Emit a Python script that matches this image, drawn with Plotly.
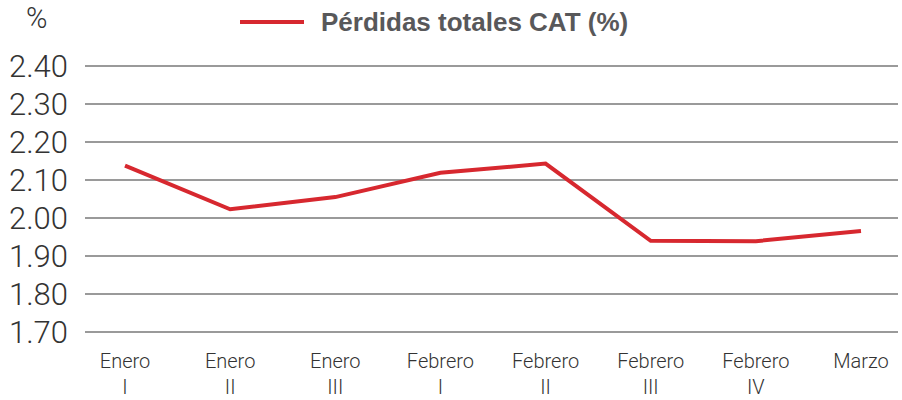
import plotly.graph_objects as go

categories = ["Enero<br>I", "Enero<br>II", "Enero<br>III", "Febrero<br>I",
              "Febrero<br>II", "Febrero<br>III", "Febrero<br>IV", "Marzo"]
perdidas = [2.138, 2.023, 2.055, 2.119, 2.143, 1.940, 1.939, 1.966]
y_ticks = [1.70, 1.80, 1.90, 2.00, 2.10, 2.20, 2.30, 2.40]
y_tick_text = ["1.70", "1.80", "1.90", "2.00", "2.10", "2.20", "2.30", "2.40"]
series_name = "Pérdidas totales CAT (%)"

RED = "#d7282f"
FONT = "Roboto"

fig = go.Figure()
fig.add_trace(go.Scatter(
    x=list(range(len(categories))), y=perdidas, mode="lines",
    name=series_name, line=dict(color=RED, width=4),
    showlegend=False, hoverinfo="skip",
))

W, H = 902, 400
ml, mr, mt, mb = 85, 4, 64, 66
pw, ph = W - ml - mr, H - mt - mb

def px_x(p):
    return (p - ml) / pw

def px_y(p):
    return (H - mb - p) / ph

# category 0 at ~125px, category 7 at ~861px
step = (861 - 125) / 7
x_lo = (ml - 125) / step
x_hi = 7 + (W - mr - 861) / step

fig.update_layout(
    width=W, height=H,
    margin=dict(l=ml, r=mr, t=mt, b=mb, autoexpand=False),
    paper_bgcolor="white", plot_bgcolor="white",
    font=dict(family=FONT, color="#333333"),
    xaxis=dict(
        tickmode="array", tickvals=list(range(len(categories))), ticktext=categories,
        range=[x_lo, x_hi], showgrid=False, zeroline=False, showline=False,
        tickfont=dict(family=FONT, size=20, color="#333333", weight=300),
        ticklabelstandoff=13, ticks="", automargin=False,
    ),
    yaxis=dict(
        tickmode="array", tickvals=y_ticks, ticktext=y_tick_text,
        range=[1.695, 2.405], showgrid=True, gridcolor="#9a9a9a", gridwidth=2,
        zeroline=False, showline=False,
        tickfont=dict(family=FONT, size=31, color="#333333", weight=300),
        ticklabelstandoff=16, ticks="", automargin=False,
    ),
    shapes=[dict(
        type="line", xref="paper", yref="paper",
        x0=px_x(240), x1=px_x(304), y0=px_y(22), y1=px_y(22),
        line=dict(color=RED, width=4),
    )],
    annotations=[
        dict(text=series_name, xref="paper", yref="paper",
             x=px_x(319), y=px_y(22), xanchor="left", yanchor="middle",
             showarrow=False,
             font=dict(family="Liberation Sans", size=26, color="#58585a", weight="bold")),
        dict(text="%", xref="paper", yref="paper",
             x=px_x(36), y=px_y(18), xanchor="center", yanchor="middle",
             showarrow=False,
             font=dict(family=FONT, size=29, color="#333333", weight=300)),
    ],
)

fig.write_html(
    "out.html",
    config={"displayModeBar": False, "staticPlot": True},
    post_script="document.body.style.margin='0';document.body.style.overflow='hidden';",
)
